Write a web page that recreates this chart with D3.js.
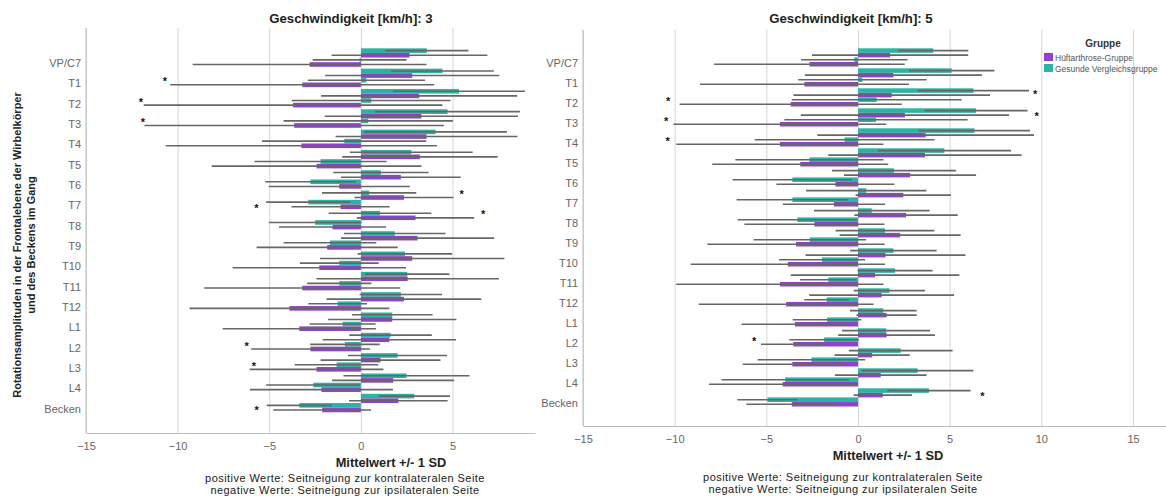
<!DOCTYPE html>
<html>
<head>
<meta charset="utf-8">
<script src="https://cdn.jsdelivr.net/npm/d3@7"></script>
<style>
  body { margin: 0; background: #fff; }
  svg { display: block; font-family: "Liberation Sans", Arial, sans-serif; }
</style>
</head>
<body>
<svg id="chart" width="1166" height="497"></svg>
<script>
// Data
const categories = ["VP/C7", "T1", "T2", "T3", "T4", "T5", "T6", "T7", "T8", "T9",
                    "T10", "T11", "T12", "L1", "L2", "L3", "L4", "Becken"];
const groups = ["Hüftarthrose-Gruppe", "Gesunde Vergleichsgruppe"];
const ticks3 = [-15, -10, -5, 0, 5];
const ticks5 = [-15, -10, -5, 0, 5, 10, 15];

// Geschwindigkeit 3 km/h  (g = gesund, h = Hüftarthrose; Pos/Neg = Seite)
const g3PosMean = [3.6, 4.45, 5.35, 4.73, 4.07, 2.75, 1.09, 0.45, 1.04, 1.85, 2.4, 2.53, 2.18, 1.71, 1.62, 2.0, 2.49, 2.91];
const g3PosSD   = [2.27, 2.8, 3.6, 3.95, 3.9, 3.35, 2.6, 2.57, 2.8, 2.77, 2.58, 2.3, 2.25, 2.2, 2.25, 2.7, 3.44, 1.95];
const h3PosMean = [2.65, 2.8, 3.18, 3.3, 3.58, 3.22, 2.18, 2.35, 2.98, 3.09, 2.8, 2.55, 2.35, 1.71, 1.55, 1.07, 1.76, 2.04];
const h3PosSD   = [4.25, 4.75, 5.35, 5.27, 4.96, 4.24, 3.27, 2.7, 3.2, 4.18, 5.03, 4.98, 4.22, 3.5, 3.64, 3.27, 3.33, 2.69];
const g3NegMean = [-0.07, 0.3, 0.56, 0.4, -0.91, -2.2, -2.75, -2.87, -2.5, -1.69, -1.18, -1.18, -1.27, -1.0, -0.87, -1.33, -2.6, -3.36];
const g3NegSD   = [2.56, 3.2, 4.33, 4.62, 4.48, 3.6, 2.47, 2.3, 2.53, 2.53, 2.15, 1.75, 1.6, 1.8, 1.9, 2.28, 2.57, 1.78];
const h3NegMean = [-2.8, -3.2, -3.7, -3.64, -3.25, -2.42, -1.18, -1.11, -1.55, -1.84, -2.27, -3.2, -3.9, -3.36, -2.75, -2.42, -2.15, -2.11];
const h3NegSD   = [6.38, 7.2, 8.15, 8.17, 7.4, 5.72, 3.85, 2.68, 2.92, 3.85, 4.73, 5.35, 5.45, 4.18, 3.24, 3.65, 3.9, 2.67];

// Geschwindigkeit 5 km/h
const g5PosMean = [4.1, 5.11, 6.29, 6.44, 6.35, 4.71, 1.96, 0.45, 0.75, 1.47, 1.93, 2.02, 1.71, 1.38, 1.53, 2.33, 3.25, 3.87];
const g5PosSD   = [1.92, 2.33, 3.04, 2.81, 3.03, 3.64, 3.38, 3.28, 3.15, 2.69, 2.36, 2.05, 1.94, 1.82, 2.4, 2.83, 3.04, 2.27];
const h5PosMean = [1.75, 1.93, 1.84, 2.56, 3.69, 3.65, 2.84, 2.47, 2.62, 2.3, 1.5, 0.93, 1.29, 1.56, 1.56, 0.77, 1.24, 1.35];
const h5PosSD   = [4.26, 4.83, 5.36, 5.68, 5.91, 5.27, 3.6, 2.6, 2.82, 3.3, 4.36, 4.6, 3.95, 1.64, 2.64, 2.05, 2.5, 1.59];
const g5NegMean = [-0.2, 0.24, 1.02, 0.98, -0.73, -2.65, -3.58, -3.58, -3.31, -2.63, -1.96, -1.62, -1.71, -1.69, -1.85, -2.54, -3.97, -4.94];
const g5NegSD   = [2.9, 3.5, 4.63, 5.0, 4.9, 4.04, 3.26, 3.04, 3.25, 3.07, 2.35, 1.54, 1.22, 1.87, 1.9, 2.93, 3.47, 1.64];
const h5NegMean = [-2.65, -2.92, -3.67, -4.26, -4.26, -3.15, -1.23, -1.31, -2.38, -3.38, -3.83, -4.26, -3.92, -3.44, -3.53, -3.58, -4.11, -3.61];
const h5NegSD   = [5.2, 5.7, 6.06, 5.8, 5.65, 4.8, 3.22, 2.79, 3.82, 4.84, 5.3, 5.65, 4.77, 2.91, 1.76, 2.71, 4.02, 2.48];

// Sternchen (Ausreißer-Markierungen): Kategorie, Zeile, Wert
const stars3 = [
  { cat: "T1", slot: 3, value: -10.7 }, { cat: "T2", slot: 3, value: -12.0 },
  { cat: "T3", slot: 3, value: -11.9 }, { cat: "T7", slot: 1, value: 5.5 },
  { cat: "T7", slot: 4, value: -5.7 },  { cat: "T8", slot: 1, value: 6.67 },
  { cat: "L2", slot: 3, value: -6.24 }, { cat: "L3", slot: 3, value: -5.84 },
  { cat: "Becken", slot: 3.8, value: -5.69 }
];
const stars5 = [
  { cat: "T2", slot: 3, value: -10.35 }, { cat: "T2", slot: 1.5, value: 9.66 },
  { cat: "T3", slot: 3, value: -10.47 }, { cat: "T3", slot: 2, value: 9.75 },
  { cat: "T4", slot: 3, value: -10.38 }, { cat: "L2", slot: 3, value: -5.67 },
  { cat: "Becken", slot: 2, value: 6.78 }
];

const purple = "#8f43cd";
const green = "#29b5a3";
const rowKeys = ["gPos", "hPos", "gNeg", "hNeg"];
const rowColor = { gPos: green, hPos: purple, gNeg: green, hNeg: purple };

const svg = d3.select("#chart");
svg.append("rect").attr("width", 1166).attr("height", 497).attr("fill", "#fff");

function drawPanel(p) {
  const x = d3.scaleLinear().domain(p.xDomain).range([p.left, p.right]);
  const y = d3.scaleBand().domain(categories)
      .range([p.bandTop, p.bandBottom]).paddingInner(0.09).paddingOuter(0.045);
  const row = d3.scaleBand().domain(rowKeys).range([0, y.bandwidth()]);
  const g = svg.append("g");

  // gridlines
  g.append("g")
    .attr("transform", `translate(0,${p.bottom})`)
    .call(d3.axisBottom(x).tickValues(p.ticks).tickSize(-(p.bottom - p.top)).tickFormat(""))
    .call(a => {
      a.select(".domain").remove();
      a.selectAll("line").attr("stroke", "#d6d6d6");
    });

  // x axis
  g.append("g")
    .attr("transform", `translate(0,${p.bottom})`)
    .call(d3.axisBottom(x).tickValues(p.ticks).tickSize(0).tickPadding(9))
    .call(a => {
      a.select(".domain").attr("stroke", "#bdbdbd");
      a.selectAll("text").attr("fill", "#666").style("font-size", "11px")
        .style("font-family", "Liberation Sans, Arial, sans-serif");
    });

  // y axis line
  g.append("line")
    .attr("x1", p.left).attr("x2", p.left)
    .attr("y1", p.top).attr("y2", p.bottom)
    .attr("stroke", "#bdbdbd");

  // category labels
  g.selectAll(".cat")
    .data(categories)
    .enter()
    .append("text")
    .attr("class", "cat")
    .attr("x", p.left - 5)
    .attr("y", d => y(d) + y.bandwidth() * 0.8 + 4)
    .attr("text-anchor", "end")
    .attr("fill", "#666")
    .style("font-size", "11px")
    .text(d => d);

  const rows = categories.flatMap((c, i) => rowKeys.map(k => ({
    cat: c, key: k, mean: p.mean[k][i], sd: p.sd[k][i]
  })));

  // bars
  g.selectAll(".bar")
    .data(rows)
    .enter()
    .append("rect")
    .attr("class", "bar")
    .attr("x", d => x(Math.min(0, d.mean)))
    .attr("width", d => Math.abs(x(d.mean) - x(0)))
    .attr("y", d => y(d.cat) + row(d.key))
    .attr("height", row.bandwidth())
    .attr("fill", d => rowColor[d.key]);

  // whiskers (+/- 1 SD)
  g.selectAll(".sd")
    .data(rows)
    .enter()
    .append("line")
    .attr("class", "sd")
    .attr("x1", d => x(d.mean - d.sd))
    .attr("x2", d => x(d.mean + d.sd))
    .attr("y1", d => y(d.cat) + row(d.key) + row.bandwidth() / 2)
    .attr("y2", d => y(d.cat) + row(d.key) + row.bandwidth() / 2)
    .attr("stroke", "#666")
    .attr("stroke-width", 1.6);

  // asterisks
  g.selectAll(".star")
    .data(p.stars)
    .enter()
    .append("text")
    .attr("class", "star")
    .attr("x", d => x(d.value))
    .attr("y", d => y(d.cat) + (d.slot + 0.5) * row.bandwidth() + 0.5)
    .attr("text-anchor", "middle")
    .attr("fill", "#111")
    .style("font-size", "11px")
    .style("font-weight", "bold")
    .text("*");

  // titles
  g.append("text")
    .attr("x", p.titleX).attr("y", 23)
    .attr("text-anchor", "middle")
    .style("font-size", "13.2px").style("font-weight", "bold")
    .attr("fill", "#222")
    .text(p.title);

  g.append("text")
    .attr("x", p.xTitleX).attr("y", p.xTitleY)
    .attr("text-anchor", "middle")
    .style("font-size", "12.8px").style("font-weight", "bold")
    .attr("fill", "#222")
    .text("Mittelwert +/- 1 SD");

  const notes = ["positive Werte: Seitneigung zur kontralateralen Seite",
                 "negative Werte: Seitneigung zur ipsilateralen Seite"];
  notes.forEach((t, i) => {
    g.append("text")
      .attr("x", p.noteX).attr("y", p.noteY + i * 12)
      .attr("text-anchor", "middle")
      .style("font-size", "11px")
      .style("letter-spacing", "0.45px")
      .attr("fill", "#222")
      .text(t);
  });
}

drawPanel({
  title: "Geschwindigkeit [km/h]: 3",
  xDomain: [-15, 9.5], ticks: ticks3,
  left: 86, right: 535, top: 28, bottom: 433,
  bandTop: 47.4, bandBottom: 413.2,
  titleX: 351, xTitleX: 391, xTitleY: 467, noteX: 345, noteY: 481.5,
  mean: { gPos: g3PosMean, hPos: h3PosMean, gNeg: g3NegMean, hNeg: h3NegMean },
  sd:   { gPos: g3PosSD,   hPos: h3PosSD,   gNeg: g3NegSD,   hNeg: h3NegSD },
  stars: stars3
});

drawPanel({
  title: "Geschwindigkeit [km/h]: 5",
  xDomain: [-15, 16.8], ticks: ticks5,
  left: 583, right: 1166, top: 30, bottom: 426,
  bandTop: 47.4, bandBottom: 407.4,
  titleX: 851, xTitleX: 888, xTitleY: 460, noteX: 843, noteY: 480.5,
  mean: { gPos: g5PosMean, hPos: h5PosMean, gNeg: g5NegMean, hNeg: h5NegMean },
  sd:   { gPos: g5PosSD,   hPos: h5PosSD,   gNeg: g5NegSD,   hNeg: h5NegSD },
  stars: stars5
});

// y axis title
const yTitle = ["Rotationsamplituden in der Frontalebene der Wirbelkörper", "und des Beckens im Gang"];
yTitle.forEach((t, i) => {
  svg.append("text")
    .attr("transform", `translate(${21 + i * 14},245) rotate(-90)`)
    .attr("text-anchor", "middle")
    .style("font-size", "11px").style("font-weight", "bold")
    .attr("fill", "#222")
    .text(t);
});

// legend
const legend = svg.append("g");
legend.append("text")
  .attr("x", 1103).attr("y", 47)
  .attr("text-anchor", "middle")
  .style("font-size", "10px").style("font-weight", "bold")
  .attr("fill", "#333")
  .text("Gruppe");
const legendColor = [purple, green];
groups.forEach((name, i) => {
  legend.append("rect")
    .attr("x", 1044).attr("y", 53 + i * 11)
    .attr("width", 9).attr("height", 8)
    .attr("fill", legendColor[i]);
  legend.append("text")
    .attr("x", 1055).attr("y", 60.5 + i * 11)
    .style("font-size", "8.5px")
    .attr("fill", "#555")
    .text(name);
});
</script>
</body>
</html>
